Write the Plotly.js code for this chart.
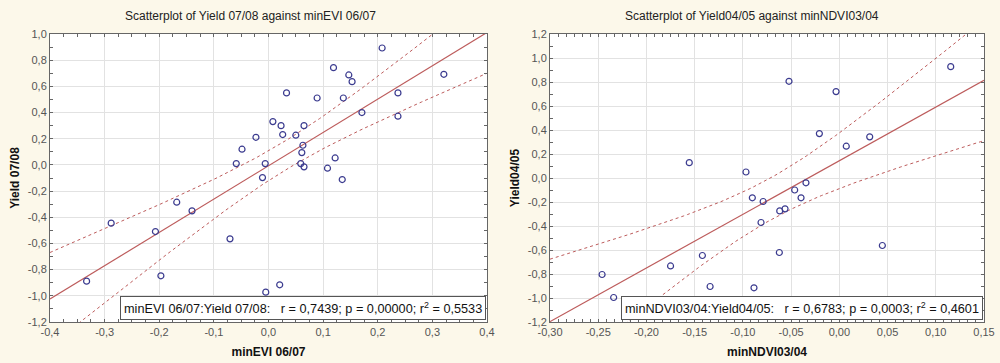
<!DOCTYPE html>
<html>
<head>
<meta charset="utf-8">
<script src="https://cdn.plot.ly/plotly-3.0.1.min.js"></script>
<style>
html,body{margin:0;padding:0;background:#fcf8ea;}
#chart{width:1000px;height:363px;}
</style>
</head>
<body>
<div id="chart"></div>
<script>
// ---- Left chart data: minEVI 06/07 (x) vs Yield 07/08 (y)
const leftX = [0.208,0.119,0.147,0.153,0.321,0.033,0.089,0.137,0.237,0.171,0.237,0.008,0.023,0.065,-0.023,0.026,0.050,0.063,0.061,-0.0485,-0.059,-0.006,0.059,0.065,0.122,0.108,-0.011,0.135,-0.333,-0.288,-0.207,-0.197,-0.168,-0.140,-0.0705,-0.005,0.0205];
const leftY = [0.893,0.743,0.687,0.636,0.692,0.550,0.511,0.511,0.550,0.400,0.372,0.331,0.300,0.300,0.211,0.232,0.227,0.150,0.094,0.120,0.010,0.010,0.010,-0.015,0.053,-0.025,-0.097,-0.112,-0.888,-0.445,-0.509,-0.847,-0.285,-0.351,-0.565,-0.972,-0.916];

// ---- Right chart data: minNDVI03/04 (x) vs Yield04/05 (y)
const rightX = [-0.1556,-0.0968,0.1155,-0.0522,-0.0034,-0.0207,0.0315,0.0072,-0.0346,-0.0463,-0.246,-0.234,-0.175,-0.142,-0.134,-0.0902,-0.079,-0.0397,-0.0618,-0.0563,-0.0812,-0.0622,0.0446,-0.0885];
const rightY = [0.128,0.050,0.928,0.806,0.720,0.370,0.343,0.265,-0.040,-0.100,-0.804,-0.996,-0.733,-0.646,-0.904,-0.165,-0.196,-0.165,-0.274,-0.257,-0.371,-0.621,-0.5625,-0.915];

// ---- Titles and texts
const leftTitle = "Scatterplot of Yield 07/08 against minEVI 06/07";
const rightTitle = "Scatterplot of Yield04/05 against minNDVI03/04";
const leftXTitle = "minEVI 06/07", leftYTitle = "Yield 07/08";
const rightXTitle = "minNDVI03/04", rightYTitle = "Yield04/05";
const leftStats = "minEVI 06/07:Yield 07/08:   r = 0,7439; p = 0,00000; r<sup>2</sup> = 0,5533";
const rightStats = "minNDVI03/04:Yield04/05:   r = 0,6783; p = 0,0003; r<sup>2</sup> = 0,4601";

// ---- Tick labels
const leftXTicks = [-0.4,-0.3,-0.2,-0.1,0,0.1,0.2,0.3,0.4];
const leftXText = ["-0,4","-0,3","-0,2","-0,1","0,0","0,1","0,2","0,3","0,4"];
const leftYTicks = [-1.2,-1.0,-0.8,-0.6,-0.4,-0.2,0,0.2,0.4,0.6,0.8,1.0];
const leftYText = ["-1,2","-1,0","-0,8","-0,6","-0,4","-0,2","0,0","0,2","0,4","0,6","0,8","1,0"];
const rightXTicks = [-0.30,-0.25,-0.20,-0.15,-0.10,-0.05,0,0.05,0.10,0.15];
const rightXText = ["-0,30","-0,25","-0,20","-0,15","-0,10","-0,05","0,00","0,05","0,10","0,15"];
const rightYTicks = [-1.2,-1.0,-0.8,-0.6,-0.4,-0.2,0,0.2,0.4,0.6,0.8,1.0,1.2];
const rightYText = ["-1,2","-1,0","-0,8","-0,6","-0,4","-0,2","0,0","0,2","0,4","0,6","0,8","1,0","1,2"];

// ---- regression + 95% confidence band of the mean, computed from the points
function tq(df){ const z=1.959964; return z+(z*z*z+z)/(4*df)+(5*Math.pow(z,5)+16*z*z*z+3*z)/(96*df*df); }
function fit(xs, ys, lo, hi){
  const n=xs.length; let mx=0,my=0; for(let i=0;i<n;i++){mx+=xs[i];my+=ys[i];} mx/=n; my/=n;
  let sxx=0,sxy=0; for(let i=0;i<n;i++){sxx+=(xs[i]-mx)**2; sxy+=(xs[i]-mx)*(ys[i]-my);}
  const b=sxy/sxx, a=my-b*mx; let sse=0; for(let i=0;i<n;i++){sse+=(ys[i]-a-b*xs[i])**2;}
  const s=Math.sqrt(sse/(n-2)), t=tq(n-2);
  const gx=[],gy=[],up=[],dn=[]; const N=120;
  for(let k=0;k<=N;k++){ const x=lo+(hi-lo)*k/N; const yh=a+b*x; const h=t*s*Math.sqrt(1/n+(x-mx)**2/sxx);
    gx.push(x); gy.push(yh); up.push(yh+h); dn.push(yh-h); }
  return {gx,gy,up,dn};
}
const fl = fit(leftX,leftY,-0.4,0.4);
const fr = fit(rightX,rightY,-0.30,0.15);

const markerStyle = {symbol:'circle-open', size:6, color:'#3b3b8f', line:{width:1.2, color:'#3b3b8f'}};
const lineCol = '#bd5c5c';
function traces(f, xs, ys, xa, ya){
  return [
    {x:f.gx,y:f.up,mode:'lines',line:{color:lineCol,width:1,dash:'3px,3px'},xaxis:xa,yaxis:ya,hoverinfo:'skip'},
    {x:f.gx,y:f.dn,mode:'lines',line:{color:lineCol,width:1,dash:'3px,3px'},xaxis:xa,yaxis:ya,hoverinfo:'skip'},
    {x:f.gx,y:f.gy,mode:'lines',line:{color:lineCol,width:1.2},xaxis:xa,yaxis:ya,hoverinfo:'skip'},
    {x:xs,y:ys,mode:'markers',marker:markerStyle,xaxis:xa,yaxis:ya,cliponaxis:false}
  ];
}
const data = [...traces(fl,leftX,leftY,'x','y'), ...traces(fr,rightX,rightY,'x2','y2')];

const tickFont = {family:'Liberation Sans, Arial, sans-serif', size:11, color:'#555'};
const titleFont = {family:'Liberation Sans, Arial, sans-serif', size:12, color:'#111', weight:'bold'};
function axis(dom, range, tv, tt, minorDt, title, anchor, standoff){
  return {domain:dom, range:range, anchor:anchor, tickvals:tv, ticktext:tt, tickfont:tickFont,
    showline:true, linecolor:'#666', linewidth:1, mirror:'ticks', ticks:'inside', ticklen:3, tickcolor:'#666',
    showgrid:true, gridcolor:'#e2e2e2', gridwidth:1, zeroline:false,
    minor:{ticks:'inside', ticklen:3, dtick:minorDt, tick0:0, tickcolor:'#666', showgrid:false},
    title:{text:title, font:titleFont, standoff:standoff}, fixedrange:true};
}
const yDom=[41/363, 329/363];
const layout = {
  width:1000, height:363, margin:{l:0,r:0,t:0,b:0},
  paper_bgcolor:'#fcf8ea', plot_bgcolor:'#ffffff', showlegend:false,
  font:{family:'Liberation Sans, Arial, sans-serif'},
  xaxis: axis([0.050,0.487],[-0.4,0.4],leftXTicks,leftXText,0.025,leftXTitle,'y',10),
  yaxis: axis(yDom,[-1.2,1.0],leftYTicks,leftYText,0.1,leftYTitle,'x',5),
  xaxis2: axis([0.550,0.984],[-0.30,0.15],rightXTicks,rightXText,0.05/6,rightXTitle,'y2',10),
  yaxis2: axis(yDom,[-1.2,1.2],rightYTicks,rightYText,0.1,rightYTitle,'x2',5),
  annotations:[
    {text:leftTitle, xref:'paper', yref:'paper', x:0.25, y:(363-16)/363, xanchor:'center', yanchor:'middle', showarrow:false,
     font:{family:'Liberation Sans, Arial, sans-serif', size:12, color:'#222'}},
    {text:rightTitle, xref:'paper', yref:'paper', x:0.752, y:(363-16)/363, xanchor:'center', yanchor:'middle', showarrow:false,
     font:{family:'Liberation Sans, Arial, sans-serif', size:12, color:'#222'}},
    {text:leftStats, xref:'x domain', yref:'y domain', x:0.998, y:0.007, xanchor:'right', yanchor:'bottom', showarrow:false,
     bgcolor:'#ffffff', bordercolor:'#555', borderwidth:1, borderpad:3,
     font:{family:'Liberation Sans, Arial, sans-serif', size:12.7, color:'#111'}},
    {text:rightStats, xref:'x2 domain', yref:'y2 domain', x:0.998, y:0.007, xanchor:'right', yanchor:'bottom', showarrow:false,
     bgcolor:'#ffffff', bordercolor:'#555', borderwidth:1, borderpad:3,
     font:{family:'Liberation Sans, Arial, sans-serif', size:12.7, color:'#111'}}
  ]
};
Plotly.newPlot('chart', data, layout, {staticPlot:true, displayModeBar:false});
</script>
</body>
</html>
